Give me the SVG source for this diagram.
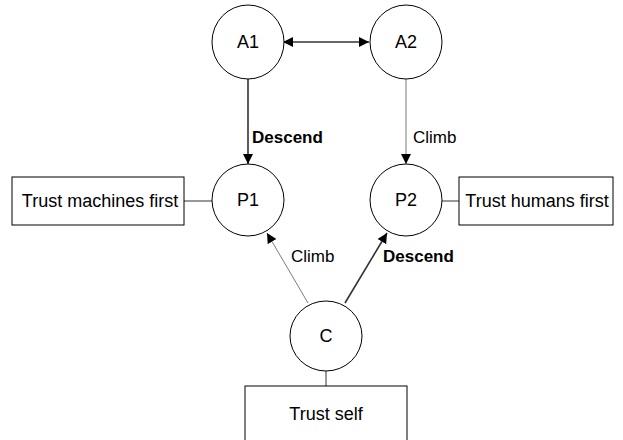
<svg xmlns="http://www.w3.org/2000/svg" width="623" height="440" viewBox="0 0 623 440">
<style>
.node{fill:#fff;stroke:#000;stroke-width:1}
.t{font-family:"Liberation Sans",Arial,sans-serif;font-size:18px;fill:#000;text-anchor:middle}
.b{font-family:"Liberation Sans",Arial,sans-serif;font-size:17px;font-weight:bold;fill:#000}
.l{font-family:"Liberation Sans",Arial,sans-serif;font-size:17px;fill:#000}
.thick{stroke:#333;stroke-width:1.6;fill:none}
.thin{stroke:#444;stroke-width:0.7;fill:none}
.link{stroke:#333;stroke-width:1;fill:none}
</style>
<defs>
<marker id="ah" viewBox="0 0 10 10" refX="10" refY="5" markerWidth="10" markerHeight="11" markerUnits="userSpaceOnUse" orient="auto-start-reverse">
<path d="M0,0 L10,5 L0,10 Z" fill="#000"/>
</marker>
</defs>
<rect width="623" height="440" fill="#fff"/>
<g id="connectors">
<line class="thick" x1="283" y1="42" x2="369" y2="42" marker-start="url(#ah)" marker-end="url(#ah)"/>
<line class="thick" x1="248" y1="79" x2="248" y2="164" marker-end="url(#ah)"/>
<line class="thin" x1="406" y1="79" x2="406" y2="164" marker-end="url(#ah)"/>
<line class="thin" x1="308" y1="303" x2="267" y2="233" marker-end="url(#ah)"/>
<line class="thick" x1="345" y1="303" x2="387" y2="233" marker-end="url(#ah)"/>
<line class="link" x1="184" y1="201" x2="212" y2="201"/>
<line class="link" x1="442" y1="201" x2="459" y2="201"/>
<line class="link" x1="326" y1="371" x2="326" y2="386"/>
<text class="b" x="252" y="143">Descend</text>
<text class="l" x="413" y="143">Climb</text>
<text class="l" x="291" y="262">Climb</text>
<text class="b" x="383" y="262">Descend</text>
</g>
<g id="A1"><ellipse class="node" cx="248" cy="42" rx="36" ry="37"/><text class="t" x="248" y="48">A1</text></g>
<g id="A2"><ellipse class="node" cx="406" cy="42" rx="36" ry="37"/><text class="t" x="406" y="48">A2</text></g>
<g id="P1"><ellipse class="node" cx="248" cy="200" rx="36" ry="36"/><text class="t" x="248" y="206">P1</text></g>
<g id="P2"><ellipse class="node" cx="406" cy="200" rx="36" ry="36"/><text class="t" x="406" y="206">P2</text></g>
<g id="C"><ellipse class="node" cx="326" cy="336" rx="36" ry="35"/><text class="t" x="326" y="342">C</text></g>
<g id="trust-machines"><rect class="node" x="12" y="177" width="172" height="48"/><text class="t" x="100" y="207">Trust machines first</text></g>
<g id="trust-humans"><rect class="node" x="459" y="177" width="154" height="48"/><text class="t" x="537" y="207">Trust humans first</text></g>
<g id="trust-self"><rect class="node" x="245" y="386" width="162" height="60"/><text class="t" x="326" y="420">Trust self</text></g>
</svg>
